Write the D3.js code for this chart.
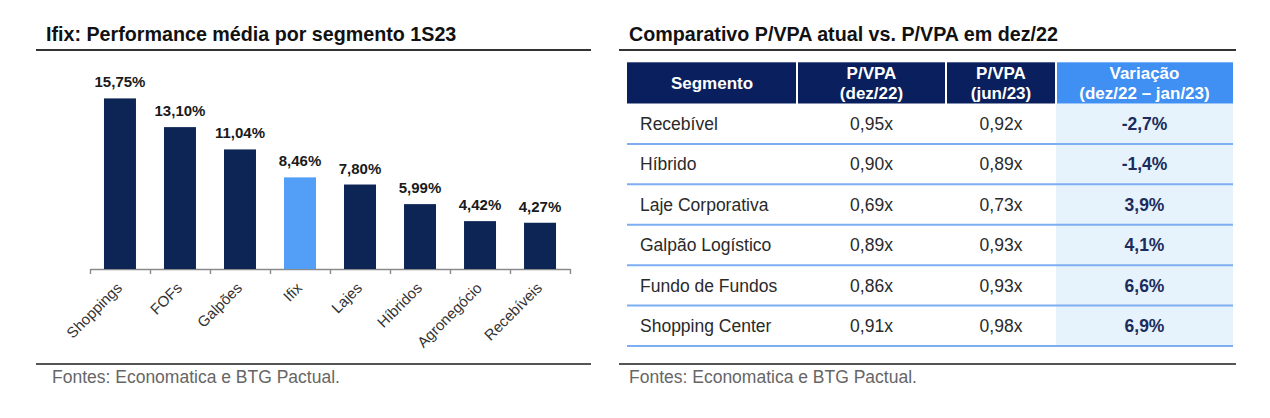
<!DOCTYPE html>
<html>
<head>
<meta charset="utf-8">
<script src="https://cdn.jsdelivr.net/npm/d3@7"></script>
<style>
  body { margin: 0; background: #fff; }
  svg { display: block; font-family: "Liberation Sans", Arial, sans-serif; }
</style>
</head>
<body>
<div id="chart"></div>
<script>
// Left chart data
var segmentos = ['Shoppings', 'FOFs', 'Galpões', 'Ifix', 'Lajes', 'Híbridos', 'Agronegócio', 'Recebíveis'];
var performance = [15.75, 13.10, 11.04, 8.46, 7.80, 5.99, 4.42, 4.27];
var destaque = 'Ifix';

// Right table data
var cabecalhos = [['Segmento'], ['P/VPA', '(dez/22)'], ['P/VPA', '(jun/23)'], ['Variação', '(dez/22 – jan/23)']];
var linhas = ['Recebível', 'Híbrido', 'Laje Corporativa', 'Galpão Logístico', 'Fundo de Fundos', 'Shopping Center'];
var pvpaDez22 = [0.95, 0.90, 0.69, 0.89, 0.86, 0.91];
var pvpaJun23 = [0.92, 0.89, 0.73, 0.93, 0.93, 0.98];
var variacao = [-2.7, -1.4, 3.9, 4.1, 6.6, 6.9];

var fonte = 'Fontes: Economatica e BTG Pactual.';

var br = d3.formatLocale({decimal: ',', thousands: '.', grouping: [3], currency: ['R$', ''], minus: '-'});
var f2 = br.format('.2f');
var f1 = br.format('.1f');

var width = 1270;
var height = 418;

var svg = d3.select('#chart')
    .append('svg')
    .attr('width', width)
    .attr('height', height);

svg.append('rect').attr('width', width).attr('height', height).attr('fill', '#fff');

// ---------- Panel frames (titles, rules, footers)
function panel(x0, x1, textX, footX, title) {
    svg.append('text')
        .attr('x', textX)
        .attr('y', 41)
        .attr('font-size', 19.7)
        .attr('font-weight', 'bold')
        .attr('fill', '#111')
        .text(title);
    svg.append('line')
        .attr('x1', x0).attr('x2', x1)
        .attr('y1', 50).attr('y2', 50)
        .attr('stroke', '#333')
        .attr('stroke-width', 1.8);
    svg.append('line')
        .attr('x1', x0).attr('x2', x1)
        .attr('y1', 364).attr('y2', 364)
        .attr('stroke', '#555')
        .attr('stroke-width', 2.2);
    svg.append('text')
        .attr('x', footX)
        .attr('y', 383)
        .attr('font-size', 17.5)
        .attr('fill', '#666')
        .text(fonte);
}

panel(36, 591, 46, 52, 'Ifix: Performance média por segmento 1S23');
panel(619, 1236, 629, 629, 'Comparativo P/VPA atual vs. P/VPA em dez/22');

// ---------- Bar chart
var x_scale = d3.scaleBand()
    .domain(segmentos)
    .range([90, 570])
    .paddingInner(0.467)
    .paddingOuter(0.233);

var y_scale = d3.scaleLinear()
    .domain([0, 16])
    .range([269, 95.7]);

var tick_scale = d3.scaleLinear()
    .domain([0, segmentos.length])
    .range([90, 570]);

var x_axis = d3.axisBottom(tick_scale)
    .tickValues(d3.range(segmentos.length + 1))
    .tickFormat('')
    .tickSize(5)
    .tickSizeOuter(0);

var ax = svg.append('g')
    .attr('transform', 'translate(0,269)')
    .call(x_axis);
ax.select('.domain').attr('stroke', '#8a8a8a').attr('stroke-width', 1.6);
ax.selectAll('.tick line').attr('stroke', '#8a8a8a').attr('stroke-width', 1.4);

svg.selectAll('rect.bar')
    .data(performance)
    .enter()
    .append('rect')
    .attr('class', 'bar')
    .attr('x', function(d, i) { return x_scale(segmentos[i]); })
    .attr('y', function(d) { return y_scale(d); })
    .attr('width', x_scale.bandwidth())
    .attr('height', function(d) { return y_scale(0) - y_scale(d); })
    .attr('fill', function(d, i) { return segmentos[i] === destaque ? '#539ff8' : '#0c2555'; });

svg.selectAll('text.valor')
    .data(performance)
    .enter()
    .append('text')
    .attr('class', 'valor')
    .text(function(d) { return f2(d) + '%'; })
    .attr('x', function(d, i) { return x_scale(segmentos[i]) + x_scale.bandwidth() / 2; })
    .attr('y', function(d) { return y_scale(d) - 11; })
    .attr('font-size', 15)
    .attr('font-weight', 'bold')
    .attr('fill', '#1a1a1a')
    .attr('text-anchor', 'middle');

svg.selectAll('text.cat')
    .data(segmentos)
    .enter()
    .append('text')
    .attr('class', 'cat')
    .text(function(d) { return d; })
    .attr('transform', function(d) {
        return 'translate(' + (x_scale(d) + x_scale.bandwidth() / 2 + 3) + ',289) rotate(-45)';
    })
    .attr('font-size', 15)
    .attr('fill', '#333')
    .attr('text-anchor', 'end');

// ---------- Table
var colEdges = [627, 797, 946, 1056, 1233];
var headTop = 62.3;
var headBottom = 103.5;

var row_scale = d3.scaleBand()
    .domain(linhas)
    .range([headBottom, 346]);

// light blue background for the last column
svg.append('rect')
    .attr('x', colEdges[3])
    .attr('y', headBottom)
    .attr('width', colEdges[4] - colEdges[3])
    .attr('height', row_scale.range()[1] - headBottom)
    .attr('fill', '#e6f3fc');

// header cells
cabecalhos.forEach(function(h, c) {
    svg.append('rect')
        .attr('x', colEdges[c] + (c > 0 ? 1 : 0))
        .attr('y', headTop)
        .attr('width', colEdges[c + 1] - colEdges[c] - (c > 0 ? 1 : 0) - (c < 3 ? 1 : 0))
        .attr('height', headBottom - headTop)
        .attr('fill', c === 3 ? '#408ff3' : '#0a1f5d');
    var cx = (colEdges[c] + colEdges[c + 1]) / 2;
    var cy = (headTop + headBottom) / 2;
    h.forEach(function(t, k) {
        svg.append('text')
            .attr('x', cx)
            .attr('y', cy + 6 - (h.length - 1) * 10 + k * 20)
            .attr('font-size', 17)
            .attr('font-weight', 'bold')
            .attr('fill', '#fff')
            .attr('text-anchor', 'middle')
            .text(t);
    });
});

// row separators
svg.selectAll('line.sep')
    .data(linhas)
    .enter()
    .append('line')
    .attr('class', 'sep')
    .attr('x1', colEdges[0])
    .attr('x2', colEdges[4])
    .attr('y1', function(d) { return row_scale(d) + row_scale.bandwidth(); })
    .attr('y2', function(d) { return row_scale(d) + row_scale.bandwidth(); })
    .attr('stroke', '#7eaef2')
    .attr('stroke-width', 2);

function rowY(d) { return row_scale(d) + row_scale.bandwidth() / 2 + 6.3; }

svg.selectAll('text.seg')
    .data(linhas)
    .enter()
    .append('text')
    .attr('class', 'seg')
    .attr('x', colEdges[0] + 13)
    .attr('y', rowY)
    .attr('font-size', 17.5)
    .attr('fill', '#2a2a2a')
    .text(function(d) { return d; });

var colunasValores = [
    {vals: pvpaDez22, fmt: function(v) { return f2(v) + 'x'; }, bold: false, color: '#2a2a2a'},
    {vals: pvpaJun23, fmt: function(v) { return f2(v) + 'x'; }, bold: false, color: '#2a2a2a'},
    {vals: variacao, fmt: function(v) { return f1(v) + '%'; }, bold: true, color: '#1c2c5c'}
];

colunasValores.forEach(function(col, c) {
    var cx = (colEdges[c + 1] + colEdges[c + 2]) / 2;
    svg.selectAll('text.v' + c)
        .data(col.vals)
        .enter()
        .append('text')
        .attr('class', 'v' + c)
        .attr('x', cx)
        .attr('y', function(d, i) { return rowY(linhas[i]); })
        .attr('font-size', 17.5)
        .attr('font-weight', col.bold ? 'bold' : 'normal')
        .attr('fill', col.color)
        .attr('text-anchor', 'middle')
        .text(col.fmt);
});
</script>
</body>
</html>
